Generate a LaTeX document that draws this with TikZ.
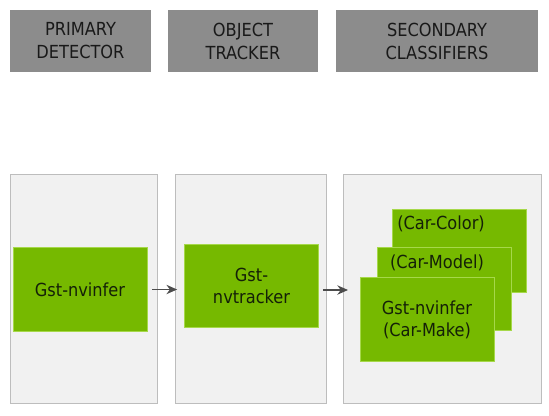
\documentclass[tikz,border=0pt]{standalone}
\usepackage{fontspec}
\setmainfont{DejaVu Sans Condensed}
\usepackage{xcolor}
\usetikzlibrary{arrows.meta,positioning}

\definecolor{hdrgray}{HTML}{8C8C8C}
\definecolor{panelbg}{HTML}{F1F1F1}
\definecolor{panelline}{HTML}{BDBDBD}
\definecolor{nvgreen}{HTML}{76B900}
\definecolor{nvedge}{HTML}{A6D84A}
\definecolor{txtdark}{HTML}{142008}

\tikzset{
  hdr/.style={fill=hdrgray, draw=none, minimum height=46.5pt, align=center,
    text=black!90, font=\fontsize{13.5}{17.25}\selectfont, inner sep=0pt},
  panel/.style={fill=panelbg, draw=panelline, line width=0.6pt,
    minimum height=171.75pt, inner sep=0pt},
  gbox/.style={fill=nvgreen, draw=nvedge, line width=0.6pt, minimum width=100.5pt,
    minimum height=62.5pt, align=center, text=txtdark,
    font=\fontsize{13.5}{16.5}\selectfont, inner sep=0pt},
  glabel/.style={text=txtdark, font=\fontsize{13.5}{16.5}\selectfont, inner sep=0pt},
  flow/.style={-{Stealth[length=8pt,width=7pt]}, draw=black!70, line width=1pt}
}

\begin{document}
\begin{tikzpicture}[x=0.75pt, y=-0.75pt]
\useasboundingbox (0,0) rectangle (549,415);

    % Headers
    \node[hdr, minimum width=105.75pt] (hdet) at (80.5,41) {PRIMARY\\DETECTOR};
    \node[hdr, minimum width=112.5pt] (htrk) at (243,41) {OBJECT\\TRACKER};
    \node[hdr, minimum width=151.5pt] (hcls) at (437,41) {SECONDARY\\CLASSIFIERS};

    % Panels
    \node[panel, minimum width=110.25pt] (pdet) at (83.5,288.5) {};
    \node[panel, minimum width=113.25pt] (ptrk) at (250.5,288.5) {};
    \node[panel, minimum width=148.5pt] (pcls) at (442,288.5) {};

    % Plugins
    \node[gbox] (infer) at (80,289.5) {Gst-nvinfer};
    \node[gbox] (tracker) at (251.5,286) {Gst-\\nvtracker};

    % Secondary stack (back to front)
    \node[gbox] (color) at (459,251) {};
    \node[glabel] (colortxt) at (441,224) {(Car-Color)};
    \node[gbox] (model) at (444,289) {};
    \node[glabel] (modeltxt) at (437,263) {(Car-Model)};
    \node[gbox] (make) at (427,319.5) {Gst-nvinfer\\(Car-Make)};

    % Arrows
    \coordinate (into) at (348,290);
    \draw[flow, shorten <=3.75pt, shorten >=5.25pt] (infer.east) -- (tracker.west |- infer.east);
    \draw[flow, shorten <=3pt] (tracker.east |- into) -- (into);
\end{tikzpicture}
\end{document}
